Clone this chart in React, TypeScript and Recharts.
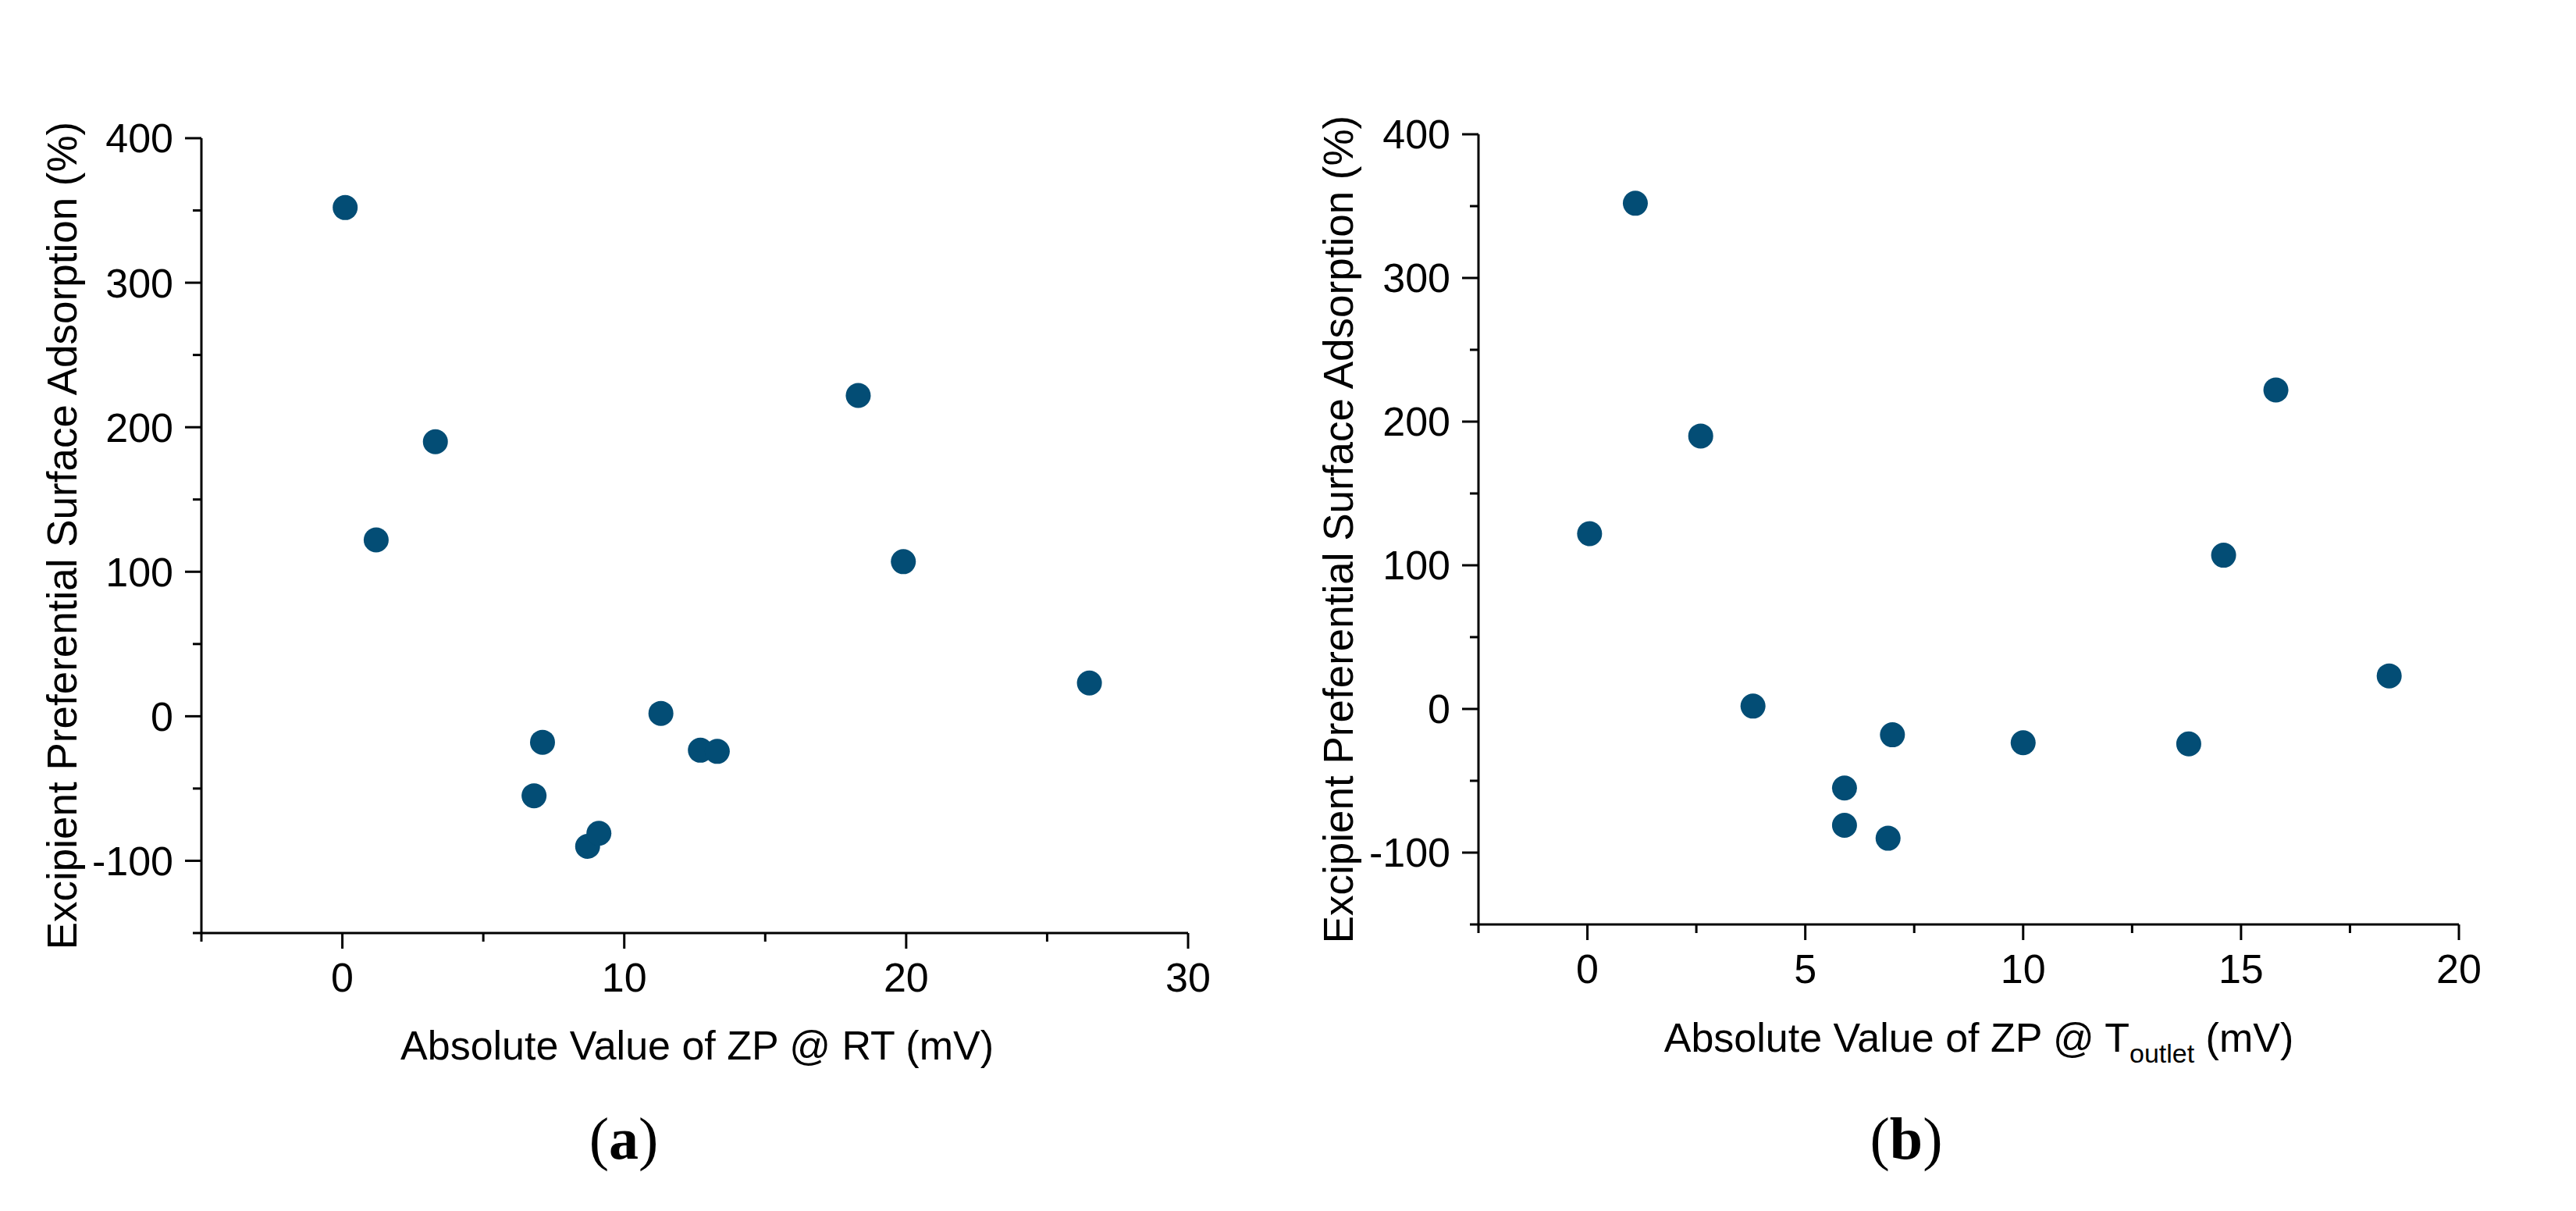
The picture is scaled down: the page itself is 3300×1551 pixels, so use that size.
import { ScatterChart, Scatter, XAxis, YAxis } from "recharts";

// adsorption (%) for each excipient, shared by both panels
const adsorption = [352, 122, 190, -55, -18, -90, -81, 2, -23.5, -24.3, 222, 107, 23];
// |ZP| at room temperature (mV)
const zpRT = [0.1, 1.2, 3.3, 6.8, 7.1, 8.7, 9.1, 11.3, 12.7, 13.3, 18.3, 19.9, 26.5];
// |ZP| at outlet temperature (mV)
const zpOutlet = [1.1, 0.05, 2.6, 5.9, 7.0, 6.9, 5.9, 3.8, 10.0, 13.8, 15.8, 14.6, 18.4];

const yTicks = [-150, -100, -50, 0, 50, 100, 150, 200, 250, 300, 350, 400];
const yMajor = [-100, 0, 100, 200, 300, 400];
const xTicksA = [-5, 0, 5, 10, 15, 20, 25, 30];
const xMajorA = [0, 10, 20, 30];
const xTicksB = [-2.5, 0, 2.5, 5, 7.5, 10, 12.5, 15, 17.5, 20];
const xMajorB = [0, 5, 10, 15, 20];

const dataA = zpRT.map((x, i) => ({ x, y: adsorption[i] }));
const dataB = zpOutlet.map((x, i) => ({ x, y: adsorption[i] }));

const SANS = "'Liberation Sans', Arial, sans-serif";
const SERIF = "'Liberation Serif', 'Times New Roman', serif";
const DOT = "#034d75";
const FS = 52;

function makeXTick(majors: number[]) {
  return (props: any) => {
    const { x, y, payload } = props;
    const major = majors.includes(payload.value);
    return (
      <g>
        <line x1={x} x2={x} y1={y} y2={y + (major ? 20 : 11)} stroke="#000" strokeWidth={3} />
        {major && (
          <text x={x} y={y + 38} dy="0.71em" textAnchor="middle" fontFamily={SANS} fontSize={FS} fill="#000">
            {payload.value}
          </text>
        )}
      </g>
    );
  };
}

function YTick(props: any) {
  const { x, y, payload } = props;
  const major = yMajor.includes(payload.value);
  return (
    <g>
      <line x1={x - (major ? 21 : 11)} x2={x} y1={y} y2={y} stroke="#000" strokeWidth={3} />
      {major && (
        <text x={x - 36} y={y} dy="0.355em" textAnchor="end" fontFamily={SANS} fontSize={FS} fill="#000">
          {payload.value}
        </text>
      )}
    </g>
  );
}

const dot = (p: any) => <circle cx={p.cx} cy={p.cy} r={16} fill={DOT} />;

function yTitle(x: number, cy: number) {
  return () => (
    <text
      x={x}
      y={cy}
      transform={`rotate(-90 ${x} ${cy})`}
      textAnchor="middle"
      fontFamily={SANS}
      fontSize={53}
      fill="#000"
    >
      Excipient Preferential Surface Adsorption (%)
    </text>
  );
}

const xTitleA = () => (
  <text x={893} y={1357} textAnchor="middle" fontFamily={SANS} fontSize={FS} fill="#000">
    Absolute Value of ZP @ RT (mV)
  </text>
);

const xTitleB = () => (
  <text x={885} y={1347} textAnchor="middle" fontFamily={SANS} fontSize={FS} fill="#000">
    Absolute Value of ZP @ T
    <tspan fontSize={34} dy={14}>outlet</tspan>
    <tspan fontSize={FS} dy={-14}> (mV)</tspan>
  </text>
);

export default function App() {
  return (
    <div style={{ position: "absolute", left: 0, top: 0, width: 3300, height: 1551, background: "#fff" }}>
      <div style={{ position: "absolute", left: 0, top: 0 }}>
        <ScatterChart width={1650} height={1551} margin={{ top: 177, right: 128, bottom: 156, left: 0 }}>
          <XAxis
            type="number"
            dataKey="x"
            domain={[-5, 30]}
            ticks={xTicksA}
            interval={0}
            height={200}
            tickSize={0}
            tickMargin={0}
            tickLine={false}
            tick={makeXTick(xMajorA)}
            axisLine={{ stroke: "#000", strokeWidth: 3 }}
            label={{ content: xTitleA }}
          />
          <YAxis
            type="number"
            dataKey="y"
            domain={[-150, 400]}
            ticks={yTicks}
            interval={0}
            width={258}
            tickSize={0}
            tickMargin={0}
            tickLine={false}
            tick={YTick}
            axisLine={{ stroke: "#000", strokeWidth: 3 }}
            label={{ content: yTitle(98, 686) }}
          />
          <Scatter data={dataA} shape={dot} isAnimationActive={false} />
        </ScatterChart>
      </div>
      <div style={{ position: "absolute", left: 1650, top: 0 }}>
        <ScatterChart width={1650} height={1551} margin={{ top: 172, right: 150, bottom: 167, left: 0 }}>
          <XAxis
            type="number"
            dataKey="x"
            domain={[-2.5, 20]}
            ticks={xTicksB}
            interval={0}
            height={200}
            tickSize={0}
            tickMargin={0}
            tickLine={false}
            tick={makeXTick(xMajorB)}
            axisLine={{ stroke: "#000", strokeWidth: 3 }}
            label={{ content: xTitleB }}
          />
          <YAxis
            type="number"
            dataKey="y"
            domain={[-150, 400]}
            ticks={yTicks}
            interval={0}
            width={244}
            tickSize={0}
            tickMargin={0}
            tickLine={false}
            tick={YTick}
            axisLine={{ stroke: "#000", strokeWidth: 3 }}
            label={{ content: yTitle(83, 678) }}
          />
          <Scatter data={dataB} shape={dot} isAnimationActive={false} />
        </ScatterChart>
      </div>
      <svg
        width={3300}
        height={1551}
        style={{ position: "absolute", left: 0, top: 0, pointerEvents: "none" }}
      >
        <text x={799} y={1484} textAnchor="middle" fontFamily={SERIF} fontSize={76} fill="#000">
          (<tspan fontWeight="bold">a</tspan>)
        </text>
        <text x={2442} y={1484} textAnchor="middle" fontFamily={SERIF} fontSize={76} fill="#000">
          (<tspan fontWeight="bold">b</tspan>)
        </text>
      </svg>
    </div>
  );
}
